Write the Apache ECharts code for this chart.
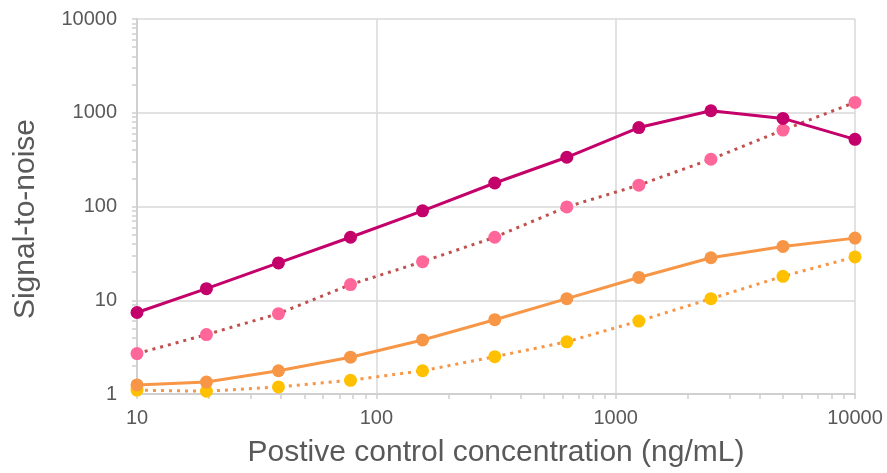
<!DOCTYPE html>
<html style="height: 100%">
<head>
    <meta charset="utf-8">
</head>
<body style="height: 100%; margin: 0">
<div id="container" style="width: 887px; height: 473px"></div>
<script type="text/javascript" src="https://cdn.jsdelivr.net/npm/echarts/dist/echarts.min.js"></script>
<script type="text/javascript">
// concentrations (ng/mL)
var conc = [10, 19.5, 39, 78, 156, 312.5, 625, 1250, 2500, 5000, 10000];

// signal-to-noise per series
var sA = [7.4, 13.3, 25, 47, 90, 178, 335, 695, 1050, 870, 520];
var sB = [2.7, 4.3, 7.2, 14.7, 25.8, 47, 99, 169, 319, 653, 1290];
var sC = [1.25, 1.34, 1.77, 2.47, 3.77, 6.2, 10.4, 17.5, 28.4, 37.5, 46];
var sD = [1.1, 1.07, 1.19, 1.4, 1.77, 2.5, 3.6, 6.0, 10.4, 18, 29];

// minor + major tick positions
var xTicks = [10,20,30,40,50,60,70,80,90,100,200,300,400,500,600,700,800,900,1000,2000,3000,4000,5000,6000,7000,8000,9000,10000];
var yTicks = [1,2,3,4,5,6,7,8,9,10,20,30,40,50,60,70,80,90,100,200,300,400,500,600,700,800,900,1000,2000,3000,4000,5000,6000,7000,8000,9000,10000];

function pairs(ys) {
    return conc.map(function (c, i) { return [c, ys[i]]; });
}

var myChart = echarts.init(document.getElementById('container'));

var font = 'Liberation Sans, Arial, sans-serif';
var axisGrey = '#D0D0D0';
var gridGrey = '#D9D9D9';
var textGrey = '#595959';

function mkSeries(data, lineColor, markColor, dotted) {
    return {
        type: 'line',
        data: pairs(data),
        symbol: 'circle',
        symbolSize: 13,
        itemStyle: {color: markColor},
        lineStyle: {color: lineColor, width: 3, type: dotted ? [3, 5] : 'solid'},
        animation: false
    };
}

// axis that only draws the major grid lines
function gridAxis(min, max, pos) {
    return {
        type: 'log', logBase: 10, min: min, max: max, position: pos,
        axisLine: {show: false}, axisTick: {show: false}, axisLabel: {show: false},
        splitLine: {show: true, lineStyle: {color: gridGrey, width: 1.5}}
    };
}

var option = {
    backgroundColor: '#fff',
    grid: {left: 137, right: 32, top: 19, bottom: 77},
    xAxis: [{
        type: 'log',
        logBase: 10,
        min: 10,
        max: 10000,
        name: 'Postive control concentration (ng/mL)',
        nameLocation: 'middle',
        nameGap: 44,
        nameTextStyle: {fontFamily: font, fontSize: 30, color: textGrey},
        axisLine: {lineStyle: {color: axisGrey, width: 2}},
        axisTick: {show: true, length: 5, customValues: xTicks, lineStyle: {color: axisGrey, width: 1.5}},
        axisLabel: {fontFamily: font, fontSize: 20, color: textGrey, margin: 14,
            formatter: function (v) { return String(v); }},
        splitLine: {show: false}
    }, gridAxis(10, 10000, 'bottom')],
    yAxis: [{
        type: 'log',
        logBase: 10,
        min: 1,
        max: 10000,
        name: 'Signal-to-noise',
        nameLocation: 'middle',
        nameGap: 96,
        nameTextStyle: {fontFamily: font, fontSize: 30, color: textGrey, padding: [0, 25, 0, 0]},
        axisLine: {show: true, lineStyle: {color: axisGrey, width: 2}},
        axisTick: {show: true, length: 5, customValues: yTicks, lineStyle: {color: axisGrey, width: 1.5}},
        axisLabel: {fontFamily: font, fontSize: 20, color: textGrey, margin: 20,
            formatter: function (v) { return String(v); }},
        splitLine: {show: false}
    }, gridAxis(1, 10000, 'left')],
    series: [
        mkSeries(sD, '#F79646', '#FFC000', true),
        mkSeries(sC, '#F79646', '#F79646', false),
        mkSeries(sB, '#C0504D', '#FF6699', true),
        mkSeries(sA, '#C4006B', '#C4006B', false)
    ]
};

myChart.setOption(option);
</script>
</body>
</html>
